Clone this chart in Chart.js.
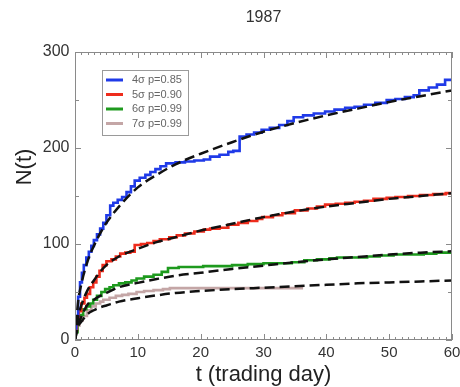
<!DOCTYPE html>
<html>
<head>
<meta charset="utf-8">
<style>
html,body{margin:0;padding:0;background:#fff;}
#wrap{width:460px;height:387px;}
</style>
<script src="https://cdn.jsdelivr.net/npm/chart.js@4"></script>
</head>
<body>
<div id="wrap"><canvas id="c" width="460" height="387"></canvas></div>
<script>
// ---- data ----
const chartTitle = "1987";
const xTitle = "t (trading day)";
const yTitle = "N(t)";
const seriesLabels = ["4\u03c3 p=0.85", "5\u03c3 p=0.90", "6\u03c3 p=0.99", "7\u03c3 p=0.99"];
const xTicks = [0, 10, 20, 30, 40, 50, 60];
const yTicks = [0, 100, 200, 300];

// empirical step curves (t, N)
const tBlue = [0,0.2,0.5,0.8,1.1,1.4,1.8,2.2,2.6,3.0,3.5,4.0,4.5,5.0,5.6,6.1,6.8,7.5,8.2,8.9,9.5,10.3,11.2,12.0,12.8,13.6,14.5,16.0,17.5,19.0,20.5,21.5,23.0,24.4,25.2,26.2,27.3,28.5,29.7,31.0,32.5,33.8,34.8,36.3,38.0,39.8,41.3,43.0,44.5,46.0,47.8,49.6,51.0,52.5,53.9,54.8,56.3,57.6,58.9,60];
const nBlue = [12,25,45,60,70,78,86,92,98,104,110,116,122,130,140,143,146,149,154,160,166,169,172,175,178,181,184,185,186,187,188,191,193,196,197,212,214,216,219,221,224,228,232,234,236,238,240,242,243,245,247,250,251,253,255,260,263,266,271,272];

const tRed = [0,0.3,0.6,1.0,1.5,1.9,2.4,2.9,3.4,3.9,4.4,5.0,5.8,6.5,7.2,8.0,8.8,9.5,10.5,11.5,12.5,13.5,15.0,16.2,17.5,19.0,20.5,21.5,23.0,24.4,26.0,27.5,29.0,29.8,31.5,33.0,35.0,37.0,38.5,39.8,41.5,43.0,44.5,46.0,47.5,49.6,51.0,53.0,54.9,57.0,59.0,60];
const nRed = [10,22,30,38,44,48,55,60,66,72,78,82,84,87,90,91,92,99,100,101,103,105,107,109,111,113,115,116,117,120,122,124,126,128,130,132,135,137,139,141,142,143,144,145,147,148,149,150,151,152,153,153];

const tGreen = [0,0.4,0.8,1.3,1.8,2.4,2.9,3.5,4.2,4.8,5.5,6.1,7.0,8.0,9.0,9.8,11.0,12.5,13.8,14.8,16.5,18.5,20.4,22.5,25.0,27.5,30.0,32.5,34.5,36.5,38.5,40.5,41.7,44.0,46.5,48.5,50.7,53.0,55.5,57.5,60];
const nGreen = [8,20,26,32,35,38,42,46,50,53,55,57,59,60,62,64,66,68,71,75,76,76,77,77,78,79,80,80,81,83,84,85,86,86,87,88,89,89,90,91,92];

const tGray = [0,0.3,0.7,1.2,1.9,2.6,3.3,4.0,4.5,5.5,6.5,7.5,8.5,9.8,11.0,12.5,14.0,15.1,17.5,20.4,23.0,26.0,30.0,33.0,36.3];
const nGray = [8,15,20,25,31,35,38,40,42,44,46,47,48,50,51,52,53,54,54,54,54,54,54,54,54];

// fitted (dashed) curves sampled at these t
const tFit = [0,0.5,1,2,3,4,5,7,10,13,16,20,25,30,35,40,45,50,55,60];
const fitBlue  = [0,40,58,82,98,111,122,139,159,172,183,194,206,217,226,234,241,248,254,260];
const fitRed   = [0,24,36,52,62,71,78,87,95,102,107,114,121,128,134,139,143,147,150,153];
const fitGreen = [0,16,24,37,42,46,49,55,59.5,63.5,67,70,74,77.5,81,84,86.5,89,91,92.5];
const fitGray  = [0,14,19,27,31,34,36,40,43.5,46.5,49,51,53,54.5,56,57.5,59,60,61,62];

const seriesColors = ["#1f3ae8", "#ee2c1c", "#1e9a1e", "#c4a6a6"];

// ---- build datasets ----
const pts = (xs, ys) => xs.map((x, i) => ({x: x, y: ys[i]}));
const empirical = [[tBlue,nBlue],[tRed,nRed],[tGreen,nGreen],[tGray,nGray]];
const fits = [fitBlue, fitRed, fitGreen, fitGray];

const datasets = [];
fits.forEach((f, i) => datasets.push({
  label: "fit " + (i+4),
  data: pts(tFit, f),
  borderColor: "#111",
  borderWidth: 2.5,
  borderDash: [10, 5],
  pointRadius: 0,
  cubicInterpolationMode: 'monotone',
  fill: false
}));
empirical.forEach((e, i) => datasets.push({
  label: seriesLabels[i],
  data: pts(e[0], e[1]),
  borderColor: seriesColors[i],
  borderWidth: 2.6,
  pointRadius: 0,
  stepped: 'before',
  fill: false
}));

const fontFam = '"Liberation Sans", Arial, sans-serif';

// ---- plugins ----
const framePlugin = {
  id: 'frame',
  afterDatasetsDraw(chart) {
    const {ctx, chartArea: a, scales: {x, y}} = chart;
    ctx.save();
    ctx.strokeStyle = '#8a8a8a';
    ctx.lineWidth = 1;
    ctx.strokeRect(a.left + 0.5, a.top + 0.5, a.right - a.left - 1, a.bottom - a.top - 1);
    ctx.beginPath();
    for (let t = 0; t <= 60; t += 1) {
      const px = Math.round(x.getPixelForValue(t)) + 0.5;
      const len = (t % 10 === 0) ? 6 : 3;
      ctx.moveTo(px, a.bottom); ctx.lineTo(px, a.bottom - len);
      ctx.moveTo(px, a.top); ctx.lineTo(px, a.top + len);
    }
    for (let v = 0; v <= 300; v += 50) {
      const py = Math.round(y.getPixelForValue(v)) + 0.5;
      const len = (v % 100 === 0) ? 6 : 4;
      ctx.moveTo(a.left, py); ctx.lineTo(a.left + len, py);
      ctx.moveTo(a.right, py); ctx.lineTo(a.right - len, py);
    }
    ctx.stroke();
    ctx.restore();
  }
};

const textPlugin = {
  id: 'texts',
  afterDraw(chart) {
    const {ctx, chartArea: a} = chart;
    ctx.save();
    // chart title, centred over the plot area
    ctx.fillStyle = '#333';
    ctx.font = '16px ' + fontFam;
    ctx.textAlign = 'center';
    ctx.textBaseline = 'middle';
    ctx.fillText(chartTitle, (a.left + a.right) / 2, 18);
    // y axis title
    ctx.fillStyle = '#222';
    ctx.font = '22px ' + fontFam;
    ctx.translate(25, 167);
    ctx.rotate(-Math.PI / 2);
    ctx.fillText(yTitle, 0, 0);
    ctx.restore();

    // legend box
    const bx = 102, by = 70, bw = 86, bh = 65;
    ctx.save();
    ctx.fillStyle = '#fff';
    ctx.fillRect(bx, by, bw, bh);
    ctx.strokeStyle = '#9a9a9a';
    ctx.lineWidth = 1;
    ctx.strokeRect(bx + 0.5, by + 0.5, bw, bh);
    ctx.font = '11px ' + fontFam;
    ctx.textBaseline = 'middle';
    seriesLabels.forEach((lab, i) => {
      const yy = by + 10 + i * 14.5;
      ctx.strokeStyle = seriesColors[i];
      ctx.lineWidth = 3;
      ctx.beginPath();
      ctx.moveTo(106, yy); ctx.lineTo(123, yy);
      ctx.stroke();
      ctx.fillStyle = '#666';
      ctx.fillText(lab, 132, yy);
    });
    ctx.restore();
  }
};

new Chart(document.getElementById('c'), {
  type: 'line',
  data: {datasets: datasets},
  plugins: [framePlugin, textPlugin],
  options: {
    responsive: false,
    animation: false,
    layout: {padding: {left: 0, right: 0, top: 52, bottom: 0}},
    plugins: {
      legend: {display: false},
      tooltip: {enabled: false},
      title: {display: false}
    },
    scales: {
      x: {
        type: 'linear',
        min: 0, max: 60,
        afterFit: s => { s.height = 47; s.paddingRight = 8; s.paddingLeft = 0; },
        afterBuildTicks: s => { s.ticks = xTicks.map(v => ({value: v})); },
        grid: {display: false, drawTicks: false},
        border: {display: false},
        ticks: {color: '#333', font: {family: fontFam, size: 15}, padding: 4, maxRotation: 0, autoSkip: false},
        title: {
          display: true, text: xTitle, color: '#222',
          font: {family: fontFam, size: 22, lineHeight: 1},
          padding: {top: 0, bottom: 1}
        }
      },
      y: {
        type: 'linear',
        min: 0, max: 300,
        afterFit: s => { s.width = 75; s.paddingTop = 0; s.paddingBottom = 0; },
        afterBuildTicks: s => { s.ticks = yTicks.map(v => ({value: v})); },
        grid: {display: false, drawTicks: false},
        border: {display: false},
        ticks: {color: '#333', font: {family: fontFam, size: 16}, padding: 5.5, autoSkip: false},
        title: {display: false}
      }
    }
  }
});
</script>
</body>
</html>
